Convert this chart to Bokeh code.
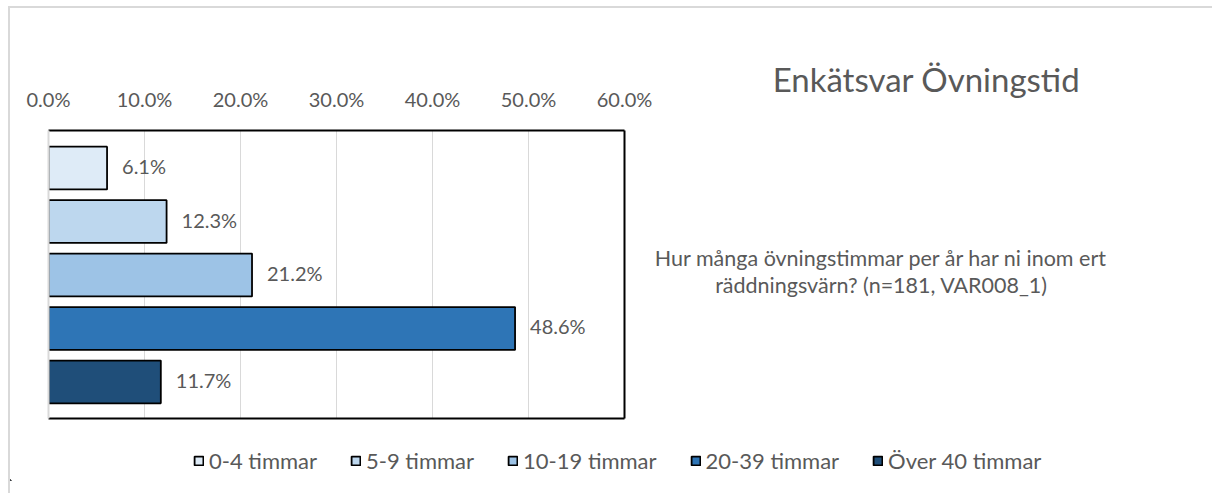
from bokeh.plotting import figure
from bokeh.layouts import column, row
from bokeh.models import (Range1d, LinearAxis, NumeralTickFormatter, FixedTicker,
                          ColumnDataSource, Legend, LegendItem, Label, LabelSet)
from bokeh.core.properties import value
from bokeh.embed import file_html
from bokeh.resources import INLINE

# ---- data ----
categories = ["0-4 timmar", "5-9 timmar", "10-19 timmar", "20-39 timmar", "Över 40 timmar"]
shares = [0.061, 0.123, 0.212, 0.486, 0.117]
share_labels = ["6.1%", "12.3%", "21.2%", "48.6%", "11.7%"]
colors = ["#DEEBF7", "#BDD7EE", "#9DC3E6", "#2E75B6", "#1F4E79"]
x_ticks = [0.0, 0.1, 0.2, 0.3, 0.4, 0.5, 0.6]
title_text = "Enkätsvar Övningstid"
question_lines = ["Hur många övningstimmar per år har ni inom ert",
                  "räddningsvärn? (n=181, VAR008_1)"]

FONT = "Lato"
TXT = "#595959"

src = ColumnDataSource(dict(y=list(range(len(categories))), right=shares,
                            label=categories, color=colors, txt=share_labels))

# ---------------- main chart ----------------
p = figure(width=642, height=414, output_backend="svg", toolbar_location=None,
           x_range=Range1d(0, 0.6), y_range=Range1d(4.683, -0.702),
           x_axis_location="above", min_border_left=38, min_border_top=122,
           min_border_right=28, min_border_bottom=4)
p.outline_line_color = None

xa = p.xaxis[0]
xa.ticker = FixedTicker(ticks=x_ticks)
xa.formatter = NumeralTickFormatter(format="0.0%")
xa.axis_line_color = "black"
xa.axis_line_width = 2
xa.major_tick_line_color = None
xa.minor_tick_line_color = None
xa.major_label_standoff = 14
xa.major_label_text_font = FONT
xa.major_label_text_font_size = "20px"
xa.major_label_text_color = TXT

ya = p.yaxis[0]
ya.axis_line_color = "#d9d9d9"
ya.axis_line_width = 2
ya.major_tick_line_color = None
ya.minor_tick_line_color = None
ya.major_label_text_font_size = "0px"
ya.major_label_standoff = 0
ya.major_label_text_color = None

for side in ("right", "below"):
    ax = LinearAxis(axis_line_color="black", axis_line_width=2,
                    major_tick_line_color=None, minor_tick_line_color=None,
                    major_tick_out=0, major_label_standoff=0,
                    major_label_text_color=None, major_label_text_font_size="0px")
    p.add_layout(ax, side)

p.xgrid.ticker = FixedTicker(ticks=x_ticks)
p.xgrid.grid_line_color = "#d9d9d9"
p.xgrid.grid_line_width = 1
p.ygrid.grid_line_color = None

r = p.hbar(y="y", right="right", left=0, height=0.8, source=src,
           fill_color="color", line_color="black", line_width=1.8)

p.add_layout(LabelSet(x="right", y="y", text="txt", source=src, x_offset=15, y_offset=2,
                      text_baseline="middle", text_font=value(FONT),
                      text_font_size="20px", text_color=TXT))

# ---------------- right side texts ----------------
SW, SH, MR = 562, 414, 20
s = figure(width=SW, height=SH, output_backend="svg", toolbar_location=None,
           x_range=Range1d(0, SW - MR), y_range=Range1d(SH, 0), frame_align=False,
           min_border_left=0, min_border_right=MR, min_border_top=0, min_border_bottom=0)
s.axis.visible = False
s.grid.grid_line_color = None
s.outline_line_color = None
s.add_layout(Label(x=274, y=70, text=title_text, text_align="center",
                   text_baseline="middle", text_font=FONT, text_font_size="33px",
                   text_color=TXT))
for ly, line in zip([249, 276], question_lines):
    s.add_layout(Label(x=229, y=ly, text=line, text_align="center",
                       text_baseline="middle", text_font=FONT, text_font_size="21.5px",
                       text_color=TXT))

# ---------------- legend strip ----------------
lg = figure(width=642 + SW, height=73, output_backend="svg", toolbar_location=None,
            x_range=Range1d(2, 3), y_range=Range1d(10, 11), frame_align=False,
            min_border_left=0, min_border_right=MR, min_border_top=0, min_border_bottom=15)
lg.axis.visible = False
lg.grid.grid_line_color = None
lg.outline_line_color = None
rl = lg.hbar(y="y", right="right", left=0, height=0.8, source=src,
             fill_color="color", line_color="black", line_width=1.8)
legend = Legend(items=[LegendItem(label=c, renderers=[rl], index=i) for i, c in enumerate(categories)],
                orientation="horizontal", location=(183, 6),
                glyph_width=11, glyph_height=11, label_standoff=5, spacing=33,
                padding=0, margin=0, border_line_color=None, background_fill_alpha=0,
                label_text_font=FONT, label_text_font_size="22px", label_text_color=TXT)
lg.add_layout(legend, "center")

layout = column(row(p, s), lg,
                styles={"margin": "8px 0px 0px 10px",
                        "box-shadow": "-2px -2px 0px 0px #d9d9d9"})

open("out.html", "w").write(file_html(layout, INLINE))
